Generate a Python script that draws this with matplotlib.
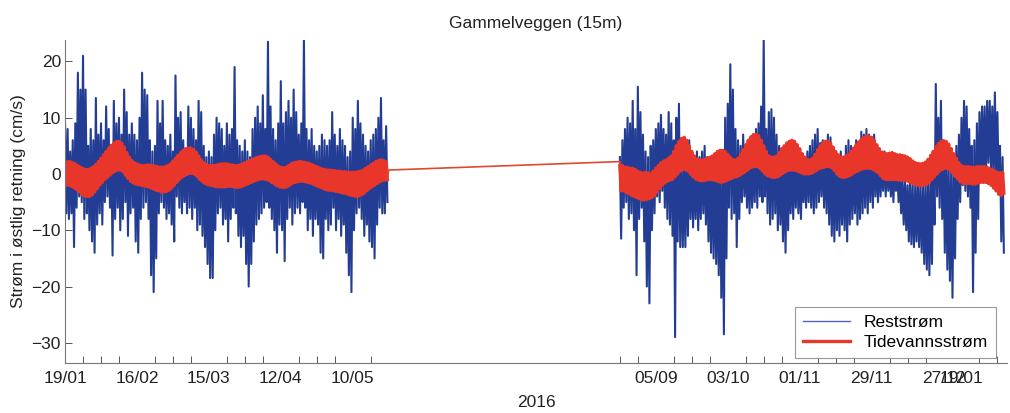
import matplotlib
matplotlib.use("Agg")
import matplotlib.pyplot as plt
import numpy as np
import pandas as pd

plt.rcParams["font.family"] = ["Liberation Sans", "DejaVu Sans"]

seg1_start = "2016-01-19"
seg2_start = "2016-08-22"

# Reststrøm, period 1 (126 days)
rest_hi_1 = [9, 8, 4, 6, 9, 18, 15, 21, 15, 5,
             8, 6, 13.5, 7, 9, 6, 12, 8, 5, 13,
             9, 10, 7, 15, 11, 7, 9, 7, 6, 10,
             18, 15, 14, 6, 4, 5, 13, 9, 13, 6,
             5, 7, 4, 17.5, 10, 11, 6, 4, 12, 10,
             8, 6, 13, 11, 5, 3, 4, 3, 7, 10,
             9, 8, 5, 9, 7, 8, 19, 6, 5, 4,
             6, 4, 3, 8, 10, 12, 9, 14, 8, 23.5,
             12, 8, 6, 9, 16.5, 9, 11, 13, 10, 15,
             11, 7, 9, 24, 8, 6, 8, 5, 4, 5,
             7, 6, 5, 6, 11, 7, 5, 8, 6, 5,
             3, 4, 10, 8, 13, 9, 7, 5, 4, 6,
             7, 8, 10, 13.5, 6, 8.5]
rest_lo_1 = [-7, -8, -7, -13, -6, -4, -5, -8, -7, -10,
             -12, -14, -9, -7, -9, -5, -4, -6, -14.5, -8,
             -6, -10, -8, -5, -11, -7, -6, -12, -14, -8,
             -6, -5, -8, -18, -21, -15, -7, -5, -6, -8,
             -7, -9, -12, -4, -6, -7, -5, -7, -6, -8,
             -6, -10, -9, -11, -13, -16, -18.5, -18.5, -10, -7,
             -6, -9, -8, -12, -8, -6, -7, -11, -13, -11,
             -16, -20, -16, -12, -9, -8, -7, -6, -5, -6,
             -8, -10, -14, -9, -10, -15.5, -8, -6, -9, -7,
             -6, -7, -5, -6, -10, -8, -11, -8, -9, -14,
             -15, -8, -10, -9, -6, -10, -8, -11, -9, -14,
             -18, -21, -10, -7, -6, -8, -11, -9, -12, -13,
             -15, -9, -6, -7, -7, -5]

# Reststrøm, period 2 (150 days)
rest_hi_2 = [3, 6, 8, 10, 9, 13, 8, 15.5, 11, 7,
             4, 3, 5, 6, 8, 9, 10.5, 8, 7, 11,
             9, 6, 10, 12.5, 3, 2, 4, 6, 3, 2,
             4, 3, 4, 5, 3, 2, 3, 2, 1, 2,
             1, 10, 12.5, 19.5, 15, 8, 6, 5, 7, 5,
             4, 5, 4, 8, 9, 12, 24, 8, 11, 11.5,
             10, 7, 5, 4, 3, 4, 2, 3, 4, 3,
             2, 3, 2, 4, 5, 6, 7, 8, 5.5, 6,
             5, 7, 6.5, 4, 3, 2, 4, 3, 5, 6,
             5, 4, 6, 5, 7.5, 7, 8, 7, 6, 7,
             5, 4, 3, 4, 3, 2, 1, 2, 1, 0,
             -1, -1, -2, -1, -2, -2, -1, -2, -2, -1,
             -1, 0, 4, 16, 10, 13, 6, 4, 2, 1,
             3, 5, 7, 10, 13, 12, 8, 5, 6, 9,
             11, 12, 12, 13, 13, 12, 14.5, 11, 5, 3]
rest_lo_2 = [-11.5, -6, -5, -8, -7, -10, -18, -8, -6, -12,
             -20, -23, -10, -7, -4, -5, -3, -6, -8, -9,
             -11, -29, -12, -13, -13, -13, -11, -8, -9.5, -8,
             -10, -8, -7, -9, -12, -14, -15, -16, -18, -22,
             -28.5, -15, -6, -8, -7, -13, -8, -5, -4, -6,
             -7, -6, -5, -6, -4, -5, -4, -7, -9, -8,
             -7, -10, -9, -12, -14, -10, -7, -8, -6, -7,
             -8, -5, -6, -5, -6, -7, -6, -5, -4, -6,
             -7, -9, -11, -12, -10, -11, -9, -10, -12, -9,
             -8, -7, -9, -8, -7, -6, -7, -5, -6, -4,
             -5, -4, -3, -4, -3, -4, -5, -3, -5, -7,
             -9, -10, -12, -12.5, -13, -12, -13, -14, -16, -17,
             -18, -16, -9, -4, -6, -8, -14, -17, -19, -22,
             -15, -8, -5, -2, -3, -4, -6, -21, -14, -8,
             -1, 0, -1, 2, 1, -2, 0, -3, -12, -14]

# Tidevannsstrøm envelope, period 1
tide_hi_1 = [2.0, 2.2, 2.2, 2.0, 1.8,
             1.5, 1.2, 1.0, 0.8, 0.8, 1.0, 1.3, 1.7,
             2.2, 2.8, 3.4, 4.0, 4.6, 5.1, 5.5,
             5.8, 5.8, 5.5, 4.8, 3.8, 3.0, 2.4,
             2.0, 1.8, 1.6, 1.5, 1.5, 1.6, 1.6,
             1.5, 1.4, 1.3, 1.2, 1.2, 1.3, 1.5, 1.8,
             2.3, 2.8, 3.3, 3.8, 4.2, 4.5, 4.6,
             4.6, 4.4, 3.9, 3.2, 2.5, 2.0, 1.7,
             1.5, 1.5, 1.5, 1.6, 1.7, 1.8, 1.8, 1.8, 1.7,
             1.6, 1.5, 1.5, 1.6, 1.8, 2.0, 2.2, 2.4,
             2.6, 2.8, 3.0, 3.1, 3.2, 3.2, 3.0, 2.6,
             2.2, 1.8, 1.4, 1.2, 1.1, 1.2, 1.5,
             1.8, 2.0, 2.1, 2.2, 2.2, 2.1, 2.0, 1.9, 1.7, 1.5, 1.3,
             1.1, 0.9, 0.8, 0.7, 0.7, 0.6, 0.6, 0.5,
             0.5, 0.4, 0.4, 0.3, 0.3, 0.3, 0.3, 0.4, 0.5, 0.7,
             1.0, 1.3, 1.6, 1.9, 2.2, 2.4, 2.5, 2.4, 2.2]
tide_lo_1 = [-2.0, -2.0, -2.2, -2.5, -2.8,
             -3.2, -3.6, -3.9, -4.0, -4.0, -3.7, -3.2, -2.6,
             -2.0, -1.5, -1.0, -0.6, -0.2, 0.2, 0.5,
             0.7, 0.7, 0.4, -0.2, -0.8, -1.3, -1.6,
             -1.8, -1.9, -2.0, -2.1, -2.2, -2.3, -2.5,
             -2.7, -2.9, -3.0, -3.2, -3.2, -3.1, -2.9, -2.5,
             -2.0, -1.5, -1.0, -0.6, -0.3, -0.1, 0.1,
             0.1, -0.1, -0.5, -1.0, -1.4, -1.7, -1.9,
             -2.0, -2.1, -2.2, -2.3, -2.3, -2.3, -2.3, -2.2, -2.2,
             -2.3, -2.4, -2.4, -2.3, -2.1, -1.9, -1.7, -1.5,
             -1.3, -1.1, -1.0, -0.9, -0.9, -1.0, -1.2, -1.5,
             -1.8, -2.1, -2.3, -2.4, -2.4, -2.3, -2.0,
             -1.7, -1.5, -1.4, -1.3, -1.3, -1.4, -1.5, -1.6, -1.8, -2.0, -2.2,
             -2.4, -2.6, -2.8, -2.9, -2.9, -3.0, -3.1, -3.2,
             -3.3, -3.4, -3.5, -3.7, -3.8, -3.9, -4.0, -3.9, -3.7, -3.4,
             -3.0, -2.6, -2.3, -2.0, -1.7, -1.4, -1.2, -1.1, -1.0]

# Tidevannsstrøm envelope, period 2
tide_hi_2 = [1.5, 1.5, 1.2, 1.2, 1.0, 1.0, 0.8, 0.5, 0.3, 0.2, 0.3, 0.2, 0.0,
             0.5, 1.0, 1.5, 2.0, 2.3, 2.5, 2.8, 3.2,
             4.0, 5.0, 5.8, 6.3, 6.5, 6.0, 5.0, 4.0, 3.2,
             2.7, 2.5, 2.5, 2.6, 2.8, 3.0, 3.2,
             3.6, 4.0, 4.2, 4.2, 4.0, 3.5, 3.0,
             2.6, 2.5, 2.8, 3.5, 4.3, 5.2,
             6.0, 6.6, 7.0, 7.0, 6.8, 6.0, 5.0, 4.0,
             3.2, 3.0, 3.0, 3.2, 3.8, 4.5,
             5.0, 5.5, 5.8, 6.0, 5.8, 5.2, 4.5, 3.6, 3.0,
             2.6, 2.5, 2.8, 3.5, 4.3, 5.0,
             5.6, 5.8, 5.8, 5.5, 4.8, 4.0, 3.4,
             3.0, 3.0, 3.2, 3.5, 4.0, 4.6, 5.2,
             5.7, 6.2, 6.5, 6.7, 6.7, 6.5, 6.0, 5.2,
             4.5, 3.9, 3.7, 3.6, 3.7, 3.8, 3.6, 3.4,
             3.4, 3.3, 3.2, 3.0, 2.7, 2.3, 2.0, 1.9,
             1.8, 1.9, 2.1, 2.6, 3.3, 4.0, 4.8,
             5.4, 5.8, 5.9, 5.8, 5.3, 4.5, 3.6, 2.8,
             2.0, 1.5, 1.3, 1.3, 1.3, 1.2,
             1.2, 1.3, 1.3, 1.3, 1.3, 1.2, 1.0, 0.8, 0.5, 0.3, 0.2, 0.3]
tide_lo_2 = [-3.0, -3.0, -3.3, -3.5, -3.8, -4.0, -4.2, -4.4, -4.6, -4.6, -4.5, -4.4, -4.2,
             -3.8, -3.2, -2.6, -2.0, -1.6, -1.3, -1.1, -1.0,
             -0.5, 0.0, 0.5, 0.8, 0.8, 0.5, 0.0, -0.5, -0.9,
             -1.1, -1.2, -1.2, -1.1, -1.0, -1.0, -1.1,
             -1.2, -1.4, -1.5, -1.4, -1.2, -1.0, -0.8,
             -0.6, -0.5, -0.3, 0.0, 0.3, 0.6,
             1.0, 1.2, 1.3, 1.3, 1.0, 0.5, 0.0, -0.3,
             -0.5, -0.6, -0.6, -0.5, -0.2, 0.1,
             0.4, 0.6, 0.7, 0.7, 0.6, 0.4, 0.2, 0.0, 0.0,
             0.0, 0.1, 0.3, 0.6, 0.9, 1.1,
             1.2, 1.3, 1.3, 1.1, 0.6, 0.0, -0.4,
             -0.6, -0.6, -0.5, -0.3, 0.0, 0.3, 0.5,
             0.7, 0.9, 1.0, 1.0, 1.0, 0.8, 0.5, 0.2,
             -0.3, -0.8, -1.0, -1.0, -1.0, -1.0, -1.0, -1.1,
             -1.1, -1.1, -1.2, -1.4, -1.6, -1.8, -2.0, -2.0,
             -2.1, -2.0, -1.8, -1.5, -1.0, -0.5, 0.0,
             0.5, 0.8, 1.0, 1.0, 0.7, 0.2, -0.4, -0.9,
             -1.4, -1.6, -1.7, -1.7, -1.7, -1.8,
             -1.8, -1.6, -1.5, -1.5, -1.5, -1.7, -2.0, -2.5, -3.0, -3.6, -3.8, -3.4]

# tidal line across the gap (end of period 1, start of period 2)
tide_gap = [0.7, 2.2]

tick_dates = ["2016-01-19", "2016-02-16", "2016-03-15", "2016-04-12", "2016-05-10",
              "2016-09-05", "2016-10-03", "2016-10-31", "2016-11-28", "2016-12-26",
              "2017-01-02"]
tick_labels = ["19/01", "16/02", "15/03", "12/04", "10/05",
               "05/09", "03/10", "01/11", "29/11", "27/12", "19/01"]


def zigzag(start, hi, lo):
    n = len(hi)
    t = pd.Timestamp(start) + pd.to_timedelta(np.arange(2 * n) * 12, unit="h")
    v = np.empty(2 * n)
    v[0::2] = hi
    v[1::2] = lo
    return t.values, v


t1, r1 = zigzag(seg1_start, rest_hi_1, rest_lo_1)
t2, r2 = zigzag(seg2_start, rest_hi_2, rest_lo_2)
rest_t = np.concatenate([t1, [t1[-1] + np.timedelta64(1, "h")], t2])
rest_v = np.concatenate([r1, [np.nan], r2])

tt1, d1 = zigzag(seg1_start, tide_hi_1, tide_lo_1)
tt2, d2 = zigzag(seg2_start, tide_hi_2, tide_lo_2)
gap_t = np.array([tt1[-1] + np.timedelta64(12, "h"), tt2[0] - np.timedelta64(1, "h")])

fig = plt.figure(figsize=(10.1, 4.13), dpi=100)
ax = fig.add_axes([0.0644, 0.121, 0.9326, 0.782])

blue = "#223d93"
red = "#e8362b"
ax.plot(rest_t, rest_v, color=blue, lw=1.5, label="Reststrøm")
ax.plot(tt1, d1, color=red, lw=2.4, label="Tidevannsstrøm")
ax.plot(np.concatenate([[tt1[-1]], gap_t, [tt2[0]]]),
        np.concatenate([[d1[-1]], tide_gap, [d2[0]]]), color="#e2472f", lw=1.2)
ax.plot(tt2, d2, color=red, lw=2.4)

ax.set_xlim(pd.Timestamp("2016-01-19"), pd.Timestamp("2017-01-19 17:00"))
ax.set_ylim(-33.6, 23.8)
ax.set_yticks([-30, -20, -10, 0, 10, 20])

ax.set_xticks(pd.to_datetime(tick_dates))
ax.set_xticklabels(tick_labels)
minor = pd.date_range("2016-01-19", "2016-05-17", freq="7D").append(
    pd.date_range("2016-08-22", "2017-01-16", freq="7D"))
ax.set_xticks(minor, minor=True)

ax.tick_params(axis="x", which="major", length=0, pad=6, labelsize=12.5, colors="#222222")
ax.tick_params(axis="x", which="minor", direction="in", length=5, width=0.7, color="#555555")
ax.tick_params(axis="y", direction="in", length=5, width=0.7, color="#555555",
               labelsize=12.5, labelcolor="#222222", pad=3)

for s in ["top", "right"]:
    ax.spines[s].set_visible(False)
for s in ["left", "bottom"]:
    ax.spines[s].set_color("#777777")
    ax.spines[s].set_linewidth(0.8)

ax.set_title("Gammelveggen (15m)", fontsize=12.5, pad=9, color="#222222")
ax.set_ylabel("Strøm i østlig retning (cm/s)", fontsize=12.5, color="#222222", labelpad=4)
ax.set_xlabel("2016", fontsize=12.5, color="#222222", labelpad=6)

leg = ax.legend(loc="lower right", bbox_to_anchor=(0.988, 0.015), fontsize=12.5,
                fancybox=False, framealpha=1, edgecolor="#999999", handlelength=2.7,
                borderaxespad=0.0, borderpad=0.45, labelspacing=0.3)
leg.get_frame().set_linewidth(0.8)
leg.get_lines()[0].set_linewidth(1.0)
leg.get_lines()[0].set_color("#4d63d0")

fig.savefig("out.png", dpi=100)
